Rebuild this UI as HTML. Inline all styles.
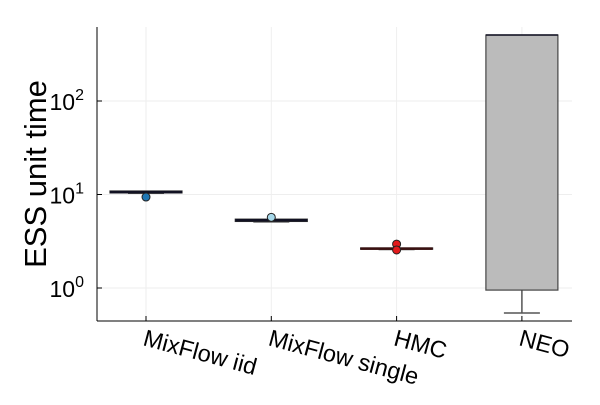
<!DOCTYPE html>
<html><head><meta charset="utf-8"><style>
body{margin:0;background:#fff}
svg text{font-family:"Liberation Sans",sans-serif;fill:#000}
</style></head><body>
<svg id="chart" width="600" height="400" xmlns="http://www.w3.org/2000/svg">
<g id="grid"></g>
<g id="marks"></g>
<g id="axes"></g>
<text transform="translate(46,174) rotate(-90)" text-anchor="middle" font-size="31">ESS unit time</text>
</svg>
<script>
const categories=["MixFlow iid","MixFlow single","HMC","NEO"];
const medians=[10.6,5.3,2.64,508];
const q1=[10.4,5.15,2.6,0.95];
const q3=[10.9,5.45,2.68,508];
const lowWhisker=[10.3,5.1,2.58,0.54];
const highWhisker=[11.0,5.5,2.7,508];
const outliers=[[9.4],[5.7],[2.95,2.55],[]];
const colors=["#1f77b4","#a6d8ea","#e31a1c","#bbbbbb"];
const yTicks=[0,1,2];
const L=97,R=572,T=27,B=321;
const yS=v=>288-93.5*Math.log10(v);
const xS=i=>146+i*125.3;
const ns="http://www.w3.org/2000/svg";
function mk(p,t,a){const e=document.createElementNS(ns,t);for(const k in a)e.setAttribute(k,a[k]);p.appendChild(e);return e;}
const grid=document.getElementById('grid'),marks=document.getElementById('marks'),axes=document.getElementById('axes');
categories.forEach((c,i)=>{const g=mk(grid,'line',{x1:xS(i),x2:xS(i),y1:T,y2:B,stroke:'#eee'});
});
yTicks.forEach(p=>{const y=yS(Math.pow(10,p));
const g=mk(grid,'line',{x1:L,x2:R,y1:y,y2:y,stroke:'#eee'});

const tk=mk(axes,'line',{x1:L,x2:L+5,y1:y,y2:y,stroke:'#000'});

const t=mk(axes,'text',{x:L-13,y:y+9,'text-anchor':'end','font-size':'23'});

t.innerHTML='10<tspan dy="-10" font-size="16">'+p+'</tspan>';});
categories.forEach((c,i)=>{const x=xS(i),hw=36;
const g=mk(marks,'g',{});
const dark=i<3;
mk(g,'line',{x1:x,x2:x,y1:yS(q1[i]),y2:yS(lowWhisker[i]),stroke:'#555','stroke-width':1.5});
mk(g,'line',{x1:x,x2:x,y1:yS(q3[i]),y2:yS(highWhisker[i]),stroke:'#555','stroke-width':1.5});
mk(g,'line',{x1:x-18,x2:x+18,y1:yS(lowWhisker[i]),y2:yS(lowWhisker[i]),stroke:'#555','stroke-width':1.5});
mk(g,'rect',{x:x-hw,y:yS(q3[i]),width:hw*2,height:Math.max(1,yS(q1[i])-yS(q3[i])),fill:dark?'#666':colors[i],stroke:dark?'#333':'#444','stroke-width':1.2});
mk(g,'line',{x1:x-hw,x2:x+hw,y1:yS(medians[i]),y2:yS(medians[i]),stroke:i==2?'#3a1010':'#112',"stroke-width":dark?2.5:1.5});
outliers[i].forEach(v=>{const o=mk(g,'circle',{cx:x,cy:yS(v),r:4,fill:colors[i],stroke:'#222'});
});
const tk=mk(axes,'line',{x1:x,x2:x,y1:B,y2:B-5,stroke:'#000'});

const t=mk(axes,'text',{'font-size':'23.5',transform:'translate('+(x-4)+','+(B+24)+') rotate(15)'});
t.textContent=c;});
const ax=mk(axes,'line',{x1:L,x2:L,y1:T,y2:B,stroke:'#000'});
const bx=mk(axes,'line',{x1:L,x2:R,y1:B,y2:B,stroke:'#000'});
</script>
</body></html>
